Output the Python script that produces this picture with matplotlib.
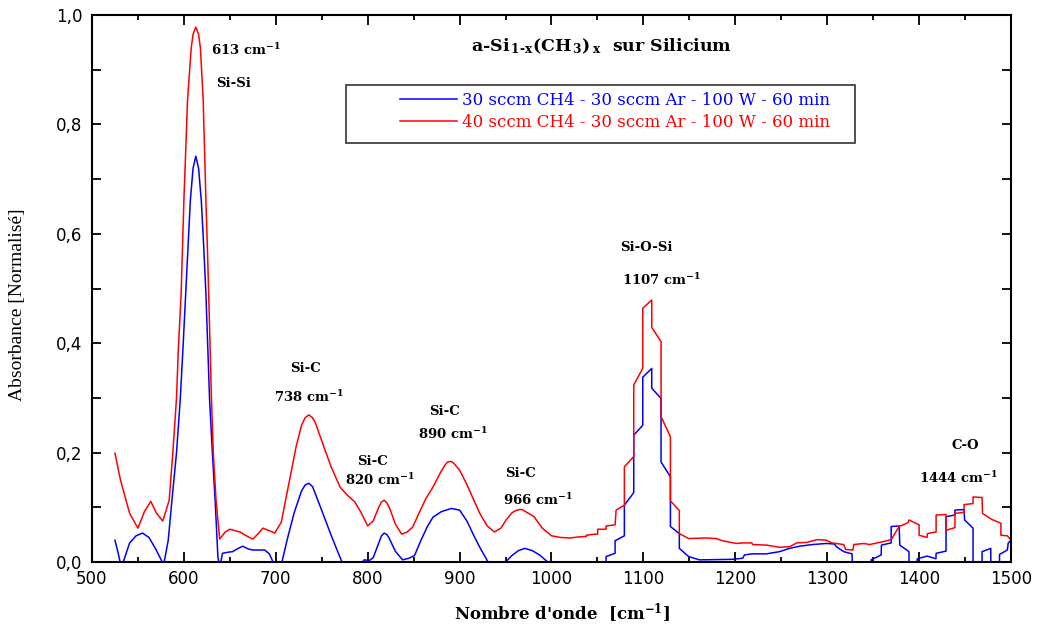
"""FTIR absorbance of a-Si(1-x)(CH3)x films on silicon, two CH4 flows."""

import matplotlib

matplotlib.use("Agg")
import matplotlib.pyplot as plt
from matplotlib import ticker
from matplotlib.patches import Rectangle

# wavenumber (cm-1) / normalised absorbance
red_x = [525, 531, 541, 550, 557, 564, 570, 577, 584, 588, 592, 594, 597, 600, 604, 608, 610,
         613, 616, 618, 621, 624, 625.5, 627, 630, 632, 635, 639, 645, 650, 661, 668, 675, 681,
         686, 692, 699, 706, 715, 722, 728, 732, 736, 740, 743, 751, 760, 770, 778, 786, 793,
         800, 806, 812, 815, 818, 821, 824, 830, 837, 843, 849, 856, 863, 871, 879, 884, 887,
         891, 894, 900, 907, 915, 922, 930, 938, 945, 951, 957, 961, 965, 968, 972, 981, 990,
         1000, 1010, 1020, 1030, 1038, 1038,
         1046.7, 1050.3, 1050.3, 1059.4, 1059.4, 1069.2, 1070.3, 1079.3, 1079.3, 1089.5,
         1089.5, 1099.3, 1099.3, 1109.1, 1109.1, 1119.2, 1119.2, 1129.4, 1129.4, 1139.1,
         1139.1, 1149.3, 1168, 1179, 1186, 1201, 1208, 1218, 1219, 1234, 1248, 1259, 1267,
         1278, 1289, 1299, 1305, 1318, 1320, 1328, 1329, 1340, 1346, 1360, 1369.6, 1378.3,
         1388, 1389, 1400, 1400, 1408.7, 1409, 1418.5, 1418.5, 1429.3, 1429.3, 1439, 1439,
         1448.9, 1448.9, 1458.7, 1458.7, 1468.5, 1469, 1479, 1489, 1489, 1496, 1500]
red_y = [0.199, 0.150, 0.089, 0.062, 0.092, 0.111, 0.090, 0.075, 0.113, 0.200, 0.300, 0.390,
         0.490, 0.660, 0.845, 0.940, 0.965, 0.978, 0.965, 0.940, 0.845, 0.660, 0.580, 0.490,
         0.300, 0.200, 0.113, 0.042, 0.055, 0.060, 0.055, 0.048, 0.042, 0.052, 0.062, 0.058,
         0.053, 0.073, 0.150, 0.210, 0.250, 0.264, 0.269, 0.264, 0.255, 0.217, 0.175, 0.137,
         0.122, 0.110, 0.090, 0.066, 0.075, 0.100, 0.110, 0.113, 0.108, 0.098, 0.070, 0.051,
         0.055, 0.064, 0.090, 0.115, 0.137, 0.163, 0.177, 0.183, 0.184, 0.180, 0.168, 0.145,
         0.115, 0.089, 0.066, 0.055, 0.062, 0.078, 0.090, 0.094, 0.096, 0.096, 0.092, 0.083,
         0.062, 0.048, 0.045, 0.044, 0.046, 0.047, 0.049,
         0.051, 0.051, 0.060, 0.060, 0.066,
         0.068, 0.095, 0.104, 0.174, 0.193, 0.324, 0.354, 0.464, 0.479, 0.429, 0.403, 0.266,
         0.229, 0.112, 0.094, 0.052, 0.043, 0.044, 0.043, 0.039, 0.034, 0.035, 0.035, 0.032,
         0.031, 0.027, 0.028, 0.035, 0.036, 0.041, 0.040, 0.035, 0.032, 0.023, 0.022, 0.032,
         0.034, 0.032, 0.037, 0.041, 0.065, 0.072, 0.077, 0.068, 0.049, 0.045, 0.052, 0.055,
         0.086, 0.087, 0.058, 0.063, 0.089, 0.091, 0.105, 0.107, 0.119, 0.118, 0.089, 0.078,
         0.071, 0.049, 0.048, 0.040]

blue_x = [525, 528, 532, 541, 548, 555, 562, 569, 575, 578, 583, 587, 592, 596, 599, 602, 607,
          610, 613, 616, 619, 621.5, 624, 628, 631, 634, 637, 639, 642, 648, 653, 658, 664, 670,
          675, 688, 693, 697, 701, 706, 713, 720, 728, 732, 736, 740, 743, 751, 760, 766, 772,
          780, 790, 796, 802, 806, 812, 815, 818, 821, 823, 830, 838, 845, 851, 858, 865, 871,
          880, 891, 900, 908, 915, 922, 931, 940, 950, 957, 964, 971, 979, 987, 996, 1010,
          1059.4,
          1059.4, 1069.2, 1069.2, 1079.3, 1079.3, 1089.5, 1089.5, 1099.3, 1099.3, 1109.1,
          1109.1, 1119.2, 1119.2, 1129.4, 1129.4, 1139.1, 1139.1, 1149.3, 1161, 1197, 1208,
          1210, 1218, 1234, 1248, 1259, 1270, 1284, 1299, 1308, 1310, 1318, 1327, 1328,
          1347.8, 1347.8, 1358.7, 1359, 1369.6, 1369.6, 1378.3, 1379, 1389, 1389, 1396, 1398,
          1408.7, 1418.3, 1418.5, 1429.3, 1429.3, 1439, 1439, 1448.9, 1449.5, 1458.7, 1458.7,
          1468.5, 1468.5, 1478, 1478, 1487.5, 1487.5, 1496, 1497, 1500]
blue_y = [0.040, 0.020, -0.010, 0.035, 0.048, 0.053, 0.045, 0.025, 0.005, -0.005, 0.040,
          0.113, 0.200, 0.296, 0.390, 0.490, 0.660, 0.720, 0.742, 0.720, 0.660, 0.580, 0.490,
          0.296, 0.200, 0.113, 0.010, -0.010, 0.016, 0.018, 0.019, 0.024, 0.029, 0.024, 0.022,
          0.022, 0.015, 0.000, -0.030, -0.005, 0.045, 0.090, 0.130, 0.141, 0.144, 0.138, 0.125,
          0.090, 0.050, 0.025, 0.000, -0.030, -0.010, 0.004, 0.003, 0.008, 0.035, 0.048, 0.053,
          0.050, 0.045, 0.020, 0.004, 0.007, 0.012, 0.040, 0.065, 0.082, 0.092, 0.098, 0.095,
          0.075, 0.050, 0.027, 0.000, -0.030, 0.000, 0.012, 0.021, 0.025, 0.021, 0.013, 0.000,
          -0.030, -0.030,
          0.010, 0.016, 0.039, 0.048, 0.104, 0.127, 0.232, 0.250, 0.338, 0.354, 0.318, 0.299,
          0.183, 0.156, 0.065, 0.052, 0.025, 0.010, 0.004, 0.005, 0.007, 0.013, 0.015, 0.015,
          0.019, 0.025, 0.029, 0.032, 0.034, 0.033, 0.028, 0.019, 0.015, -0.030, -0.030, 0.004,
          0.013, 0.031, 0.035, 0.065, 0.066, 0.031, 0.019, -0.030, -0.030, 0.006, 0.011,
          0.006, 0.016, 0.020, 0.083, 0.086, 0.095, 0.096, 0.077, 0.062, -0.030, -0.030,
          0.019, 0.025, -0.030, -0.030, 0.014, 0.022, 0.035, 0.040]

series_labels = ["30 sccm CH4 - 30 sccm Ar - 100 W - 60 min",
                 "40 sccm CH4 - 30 sccm Ar - 100 W - 60 min"]

# band labels: (text, x, y, alignment)
band_labels = [
    ("613 cm$^{-1}$", 629, 0.927, "left"),
    ("Si-Si", 635, 0.868, "left"),
    ("Si-C", 732, 0.347, "center"),
    ("738 cm$^{-1}$", 698, 0.292, "left"),
    ("Si-C", 805, 0.177, "center"),
    ("820 cm$^{-1}$", 775, 0.141, "left"),
    ("Si-C", 884, 0.269, "center"),
    ("890 cm$^{-1}$", 855, 0.225, "left"),
    ("Si-C", 966, 0.155, "center"),
    ("966 cm$^{-1}$", 947, 0.104, "left"),
    ("Si-O-Si", 1103, 0.569, "center"),
    ("1107 cm$^{-1}$", 1077, 0.506, "left"),
    ("C-O", 1450, 0.207, "center"),
    ("1444 cm$^{-1}$", 1400, 0.144, "left"),
]

SERIF = "DejaVu Serif"

plt.rcParams.update({
    "mathtext.fontset": "custom",
    "mathtext.rm": "DejaVu Serif:bold",
    "mathtext.it": "DejaVu Serif:bold",
    "mathtext.bf": "DejaVu Serif:bold",
})

fig = plt.figure(figsize=(10.38, 6.28), dpi=100)
ax = fig.add_axes([0.0886, 0.105, 0.8854, 0.871])

ax.plot(blue_x, blue_y, color="#0000ff", lw=1.1, label=series_labels[0])
ax.plot(red_x, red_y, color="#ff0000", lw=1.1, label=series_labels[1])

ax.set_xlim(500, 1500)
ax.set_ylim(0, 1.0)
ax.xaxis.set_major_locator(ticker.MultipleLocator(100))
ax.xaxis.set_minor_locator(ticker.MultipleLocator(50))
ax.yaxis.set_major_locator(ticker.MultipleLocator(0.2))
ax.yaxis.set_minor_locator(ticker.MultipleLocator(0.1))
ax.yaxis.set_major_formatter(ticker.FuncFormatter(lambda v, _: f"{v:.1f}".replace(".", ",")))

ax.tick_params(which="both", direction="in", top=True, right=True, width=1.3)
ax.tick_params(axis="x", which="major", length=7, pad=6)
ax.tick_params(axis="x", which="minor", length=3.5)
ax.tick_params(axis="y", which="both", length=6.5, pad=7)
for lab in ax.get_xticklabels() + ax.get_yticklabels():
    lab.set_family("DejaVu Sans")
    lab.set_fontsize(12)
for side in ax.spines.values():
    side.set_linewidth(1.5)

ax.set_xlabel("Nombre d'onde  [cm$^{-1}$]", family=SERIF,
              fontweight="bold", fontsize=12)
ax.xaxis.set_label_coords(0.511, -0.072)
ax.set_ylabel("Absorbance [Normalisé]", family="Liberation Serif", fontsize=14)
ax.yaxis.set_label_coords(-0.072, 0.47)

ax.text(912, 0.934, "a-Si$_{\\,1\\text{-}x}$(CH$_{\\,3}$)$_{\\,x}$  sur Silicium",
        family=SERIF, fontweight="bold", fontsize=12.5, va="baseline")

for text, x, y, ha in band_labels:
    ax.text(x, y, text, family=SERIF, fontweight="bold", fontsize=9.5,
            ha=ha, va="baseline")

# legend frame drawn separately so its size can follow the original
ax.add_patch(Rectangle((0.276, 0.766), 0.554, 0.106, transform=ax.transAxes,
                       fill=False, edgecolor="#333333", lw=1.2))
ax.legend(loc="upper left", bbox_to_anchor=(0.335, 0.860), frameon=False,
          prop={"family": SERIF, "size": 12}, labelcolor="linecolor",
          handlelength=3.4, handletextpad=0.35, labelspacing=0.3,
          borderpad=0, borderaxespad=0)

fig.savefig("out.png", dpi=100)
